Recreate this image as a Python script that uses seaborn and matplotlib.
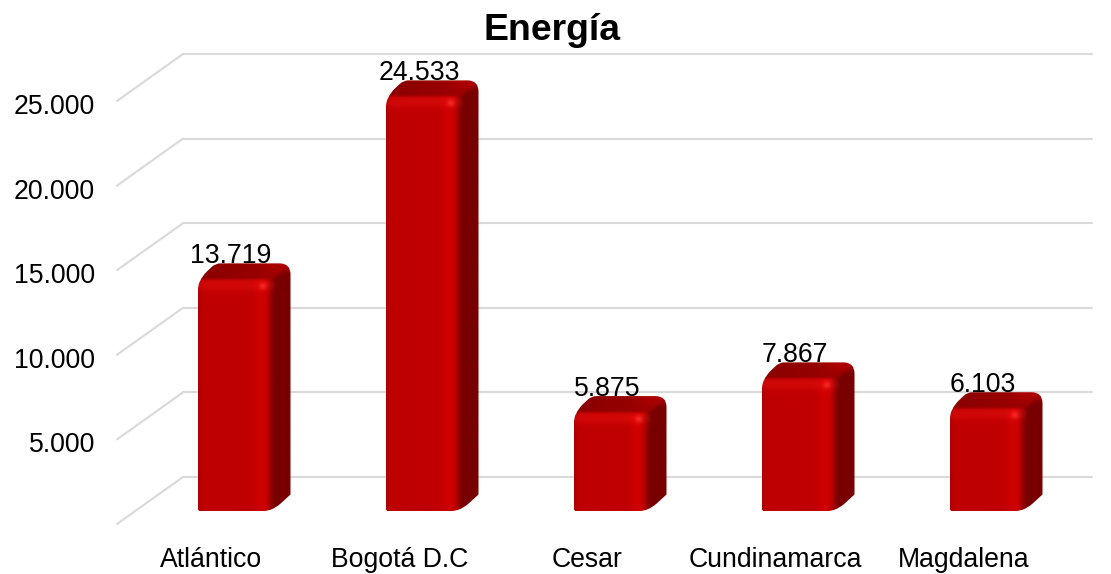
import numpy as np
import pandas as pd
import seaborn as sns
import matplotlib
matplotlib.use("Agg")
import matplotlib.pyplot as plt
from matplotlib.path import Path
from matplotlib.patches import PathPatch
from matplotlib.transforms import ScaledTranslation

categories = ["Atlántico", "Bogotá D.C", "Cesar", "Cundinamarca", "Magdalena"]
values = [13719, 24533, 5875, 7867, 6103]
value_labels = ["13.719", "24.533", "5.875", "7.867", "6.103"]
tick_values = [0, 5000, 10000, 15000, 20000, 25000]
tick_labels = ["", "5.000", "10.000", "15.000", "20.000", "25.000"]
title = "Energía"

W, H, DPI = 1111, 574, 100
AX_L, AX_R, AX_B, AX_T = 141, 1081, 512.5, 4.9
DEPTH_X, DEPTH_Y = 18, 17
GRID = "#D9D9D9"
FONT = "Liberation Sans"

sns.set_theme(style="white")
plt.rcParams["font.family"] = [FONT, "DejaVu Sans"]

fig = plt.figure(figsize=(W / DPI, H / DPI), dpi=DPI)
ax = fig.add_axes([AX_L / W, 1 - AX_B / H, (AX_R - AX_L) / W, (AX_B - AX_T) / H])
df = pd.DataFrame({"cat": categories, "val": values})
sns.barplot(data=df, x="cat", y="val", color="#C00000", saturation=1, width=75 / 188, ax=ax, zorder=3)
ax.set_xlim(-0.5, 4.5)
ax.set_ylim(0, 30000)
ax.set_xlabel("")
ax.set_ylabel("")
for s in ax.spines.values():
    s.set_visible(False)


def px(dx, dy):
    """Shift in screen pixels (dy positive = downwards)."""
    return ScaledTranslation(dx / DPI, -dy / DPI, fig.dpi_scale_trans)


# floor/wall gridlines
xl, xr = ax.get_xlim()
frac = (xr - xl) / (AX_R - AX_L)
back = ax.transData + px(0, -35.5)
for v in tick_values:
    ax.plot([xl + (183 - AX_L) * frac, xr + (1092 - AX_R) * frac], [v, v], color=GRID, lw=1.5,
            transform=back, clip_on=False, zorder=1, solid_capstyle="round")
    y_front = ax.transData.transform((0, v))[1] - 11.5
    y_back = ax.transData.transform((0, v))[1] + 35.5
    # diagonal side wall piece, front to back
    inv = ax.transData.inverted()
    a = inv.transform((117, y_front))
    b = inv.transform((183, y_back))
    ax.plot([a[0], b[0]], [a[1], b[1]], color=GRID, lw=1.5, clip_on=False, zorder=1,
            solid_capstyle="round")


def rounded(points, radii):
    verts, codes = [], []
    n = len(points)
    for i in range(n):
        p = np.array(points[i], float)
        a = np.array(points[i - 1], float)
        b = np.array(points[(i + 1) % n], float)
        r = radii[i]
        p1 = p + (a - p) / np.linalg.norm(a - p) * r
        p2 = p + (b - p) / np.linalg.norm(b - p) * r
        verts += [tuple(p1), tuple(p), tuple(p2)]
        codes += [Path.MOVETO if i == 0 else Path.LINETO, Path.CURVE3, Path.CURVE3]
    verts.append(verts[0])
    codes.append(Path.CLOSEPOLY)
    return Path(verts, codes)


def smooth(e0, e1, x):
    t = np.clip((x - e0) / (e1 - e0), 0, 1)
    return t * t * (3 - 2 * t)


def shade(fw, fh, ss=2):
    xs = (np.arange(int((fw + DEPTH_X) * ss)) + 0.5) / ss
    ys = (np.arange(int((fh + DEPTH_Y) * ss)) + 0.5) / ss - DEPTH_Y
    X, Y = np.meshgrid(xs, ys)
    # front face
    band = np.exp(-((Y - 5) / 6) ** 2)
    R = 192 + 18 * band
    R = R + 16 * np.exp(-((X - (fw - 12)) / 6) ** 2)
    R = R - 22 * np.exp(-X / 3)
    R = R - 75 * smooth(fw - 8, fw + 3, X)
    hl = np.exp(-(((X - (fw - 10)) / 3.5) ** 2 + ((Y - 6) / 3.5) ** 2))
    R = R + 22 * hl
    GB = 32 * hl + 8 * band
    # top and side faces
    side_t = 120 + 0 * X + 34 * smooth(-3, -13, Y) * smooth(fw + 2, fw + 10, X)
    top_t = 138 + 18 * (X / fw) + 14 * smooth(-4, -14, Y) * smooth(fw - 20, fw, X)
    is_side = smooth(0, 4, X - fw)
    is_top = smooth(-2, 2, -Y - 1)
    diag = smooth(-3, 3, (X - fw) * DEPTH_Y / DEPTH_X + Y)
    nonfront = np.maximum(is_side, is_top)
    rear = diag * side_t + (1 - diag) * top_t
    R = (1 - nonfront) * R + nonfront * rear
    GB = (1 - nonfront) * GB
    img = np.dstack([np.clip(R, 0, 255), np.clip(GB, 0, 255), np.clip(GB, 0, 255)]) / 255
    return img


# bevelled 3D bodies built from the bars that seaborn placed
inv = ax.transData.inverted()
for bar, lab in zip(list(ax.patches), value_labels):
    x0, y0 = bar.get_xy()
    w, h = bar.get_width(), bar.get_height()
    (pl, pb), (pr, pt) = ax.transData.transform([(x0, y0), (x0 + w, y0 + h)])
    pb_vis = pb + 1.5
    fw, fh = pr - pl, pt - pb_vis
    sil = rounded(
        [(pl, pb_vis), (pr, pb_vis), (pr + DEPTH_X, pb_vis + DEPTH_Y - 0.5),
         (pr + DEPTH_X, pt + DEPTH_Y), (pl + DEPTH_X, pt + DEPTH_Y), (pl, pt)],
        [3, 11, 0.5, 11, 5, 13],
    )
    data_path = Path(inv.transform(sil.vertices), sil.codes)
    clip = PathPatch(data_path, transform=ax.transData, facecolor="none", edgecolor="none", clip_on=False)
    ax.add_patch(clip)
    bar.set_clip_path(clip)
    img = shade(fw, fh)
    (ex0, ey0), (ex1, ey1) = inv.transform([(pl, pb_vis), (pr + DEPTH_X, pt + DEPTH_Y)])
    im = ax.imshow(img, extent=(ex0, ex1, ey0, ey1), origin="upper", aspect="auto",
                   interpolation="bilinear", zorder=4)
    im.set_clip_path(clip)
    ax.annotate(lab, xy=(x0 + w / 2, y0 + h), xytext=(-4, 24.5), textcoords="offset pixels",
                ha="center", va="center", fontsize=19.2, color="black", zorder=6, annotation_clip=False)

ax.set_xlim(xl, xr)
ax.set_ylim(0, 30000)

ax.set_yticks(tick_values)
ax.set_yticklabels(tick_labels)
ax.set_xticks(range(len(categories)))
ax.set_xticklabels(categories)
ax.tick_params(axis="y", length=0, pad=33, labelsize=19.2, labelcolor="black")
ax.tick_params(axis="x", length=0, pad=25, labelsize=19.2, labelcolor="black")
for t in ax.get_yticklabels():
    t.set_transform(t.get_transform() + px(0, 14.5))
for t in ax.get_xticklabels():
    t.set_transform(t.get_transform() + px(-23.5, 0))

fig.text(552 / W, 1 - 30 / H, title, fontsize=26.9, fontweight="bold", ha="center", va="center", color="black")
fig.savefig("out.png", dpi=DPI, facecolor="white")
